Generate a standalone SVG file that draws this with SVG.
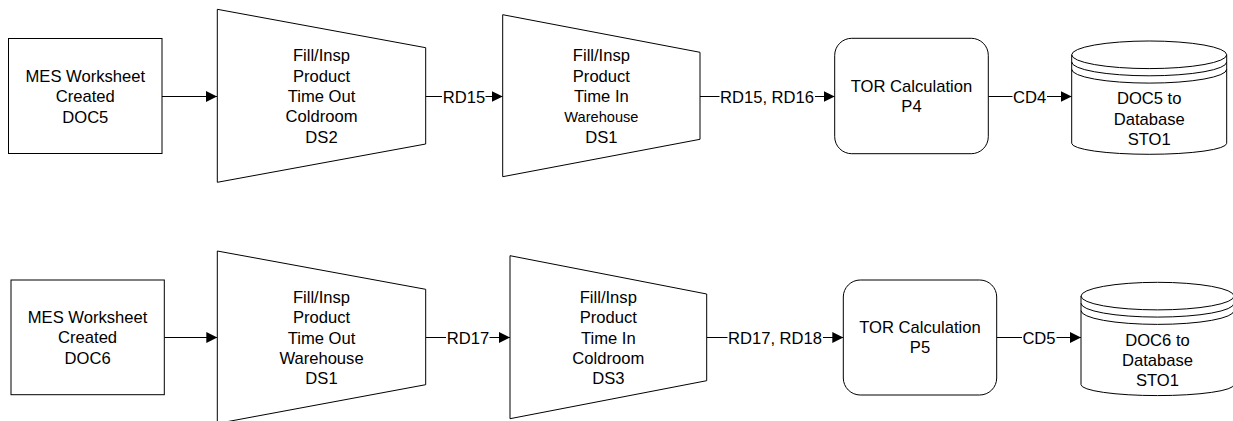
<svg xmlns="http://www.w3.org/2000/svg" width="1233" height="421" viewBox="0 0 1233 421">
<defs>
<style>
.s{fill:#fff;stroke:#000;stroke-width:1}
.t{font-family:"Liberation Sans",Arial,sans-serif;font-size:16.6px;fill:#000;text-anchor:middle}
.sm{font-size:14.6px}
.c{stroke:#000;stroke-width:1;fill:none}
.bg{fill:#fff;stroke:none}
</style>
<marker id="a" markerUnits="userSpaceOnUse" markerWidth="12" markerHeight="11" refX="11" refY="5.5" orient="auto">
<path d="M0,0 L11,5.5 L0,11 z" fill="#000"/>
</marker>
</defs>
<rect width="1233" height="421" fill="#fff"/>

<g id="connectors">
<line class="c" x1="162" y1="96.5" x2="217" y2="96.5" marker-end="url(#a)"/>
<line class="c" x1="425.7" y1="96.5" x2="502.7" y2="96.5" marker-end="url(#a)"/>
<rect class="bg" x="442" y="88" width="43.5" height="17"/>
<text class="t" x="464" y="102.5">RD15</text>
<line class="c" x1="700" y1="96.5" x2="834.7" y2="96.5" marker-end="url(#a)"/>
<rect class="bg" x="719.5" y="88" width="95.5" height="17"/>
<text class="t" x="767" y="102.5">RD15, RD16</text>
<line class="c" x1="988.3" y1="96.5" x2="1071.7" y2="96.5" marker-end="url(#a)"/>
<rect class="bg" x="1012.5" y="88" width="34.5" height="17"/>
<text class="t" x="1029.6" y="102.5">CD4</text>

<line class="c" x1="164.3" y1="337.5" x2="217.3" y2="337.5" marker-end="url(#a)"/>
<line class="c" x1="425.7" y1="337.5" x2="510" y2="337.5" marker-end="url(#a)"/>
<rect class="bg" x="446" y="329" width="43.5" height="17"/>
<text class="t" x="468" y="343.5">RD17</text>
<line class="c" x1="706.7" y1="337.5" x2="843.3" y2="337.5" marker-end="url(#a)"/>
<rect class="bg" x="727.5" y="329" width="95.5" height="17"/>
<text class="t" x="775" y="343.5">RD17, RD18</text>
<line class="c" x1="996.7" y1="337.5" x2="1081" y2="337.5" marker-end="url(#a)"/>
<rect class="bg" x="1022" y="329" width="34.5" height="17"/>
<text class="t" x="1039" y="343.5">CD5</text>
</g>

<g id="doc5">
<rect class="s" x="8.5" y="38.5" width="153.5" height="115"/>
<text class="t" x="85.3" y="82">MES Worksheet</text>
<text class="t" x="85.3" y="102.4">Created</text>
<text class="t" x="85.3" y="122.8">DOC5</text>
</g>

<g id="ds2-out">
<polygon class="s" points="217.3,9.3 425.7,47.7 425.7,144 217.3,182.3"/>
<text class="t" x="321.5" y="61.2">Fill/Insp</text>
<text class="t" x="321.5" y="81.6">Product</text>
<text class="t" x="321.5" y="102">Time Out</text>
<text class="t" x="321.5" y="122.4">Coldroom</text>
<text class="t" x="321.5" y="142.8">DS2</text>
</g>

<g id="ds1-in">
<polygon class="s" points="502.7,14.7 700,52.3 700,139.3 502.7,176.7"/>
<text class="t" x="601.4" y="61.2">Fill/Insp</text>
<text class="t" x="601.4" y="81.6">Product</text>
<text class="t" x="601.4" y="102">Time In</text>
<text class="t sm" x="601.4" y="122">Warehouse</text>
<text class="t" x="601.4" y="142.8">DS1</text>
</g>

<g id="p4">
<rect class="s" x="834.7" y="38.3" width="153.6" height="115.4" rx="17" ry="17"/>
<text class="t" x="911.5" y="92">TOR Calculation</text>
<text class="t" x="911.5" y="112.4">P4</text>
</g>

<g id="sto1-a">
<path class="s" d="M1071.7,54.8 A77.5,13.8 0 0 1 1226.7,54.8 L1226.7,143.3 A77.5,11 0 0 1 1071.7,143.3 Z"/>
<path class="c" d="M1071.7,54.8 A77.5,13.8 0 0 0 1226.7,54.8 M1071.7,62 A77.5,13.8 0 0 0 1226.7,62 M1071.7,69.3 A77.5,13.8 0 0 0 1226.7,69.3"/>
<text class="t" x="1149.2" y="104.3">DOC5 to</text>
<text class="t" x="1149.2" y="124.7">Database</text>
<text class="t" x="1149.2" y="145">STO1</text>
</g>

<g id="doc6">
<rect class="s" x="11" y="280" width="153.3" height="114.7"/>
<text class="t" x="87.6" y="322.8">MES Worksheet</text>
<text class="t" x="87.6" y="343.2">Created</text>
<text class="t" x="87.6" y="363.6">DOC6</text>
</g>

<g id="ds1-out">
<polygon class="s" points="217.3,251 425.7,289.3 425.7,384.7 217.3,423.5"/>
<text class="t" x="321.5" y="302.7">Fill/Insp</text>
<text class="t" x="321.5" y="323.1">Product</text>
<text class="t" x="321.5" y="343.5">Time Out</text>
<text class="t" x="321.5" y="363.9">Warehouse</text>
<text class="t" x="321.5" y="384.3">DS1</text>
</g>

<g id="ds3-in">
<polygon class="s" points="510,255.7 706.7,294 706.7,380.7 510,418.7"/>
<text class="t" x="608.3" y="302.7">Fill/Insp</text>
<text class="t" x="608.3" y="323.1">Product</text>
<text class="t" x="608.3" y="343.5">Time In</text>
<text class="t" x="608.3" y="363.9">Coldroom</text>
<text class="t" x="608.3" y="384.3">DS3</text>
</g>

<g id="p5">
<rect class="s" x="843.3" y="280" width="153.4" height="115" rx="17" ry="17"/>
<text class="t" x="920" y="333">TOR Calculation</text>
<text class="t" x="920" y="353.4">P5</text>
</g>

<g id="sto1-b">
<path class="s" d="M1081,296.1 A76.5,13.8 0 0 1 1234,296.1 L1234,384.6 A76.5,11 0 0 1 1081,384.6 Z"/>
<path class="c" d="M1081,296.1 A76.5,13.8 0 0 0 1234,296.1 M1081,303.3 A76.5,13.8 0 0 0 1234,303.3 M1081,310.6 A76.5,13.8 0 0 0 1234,310.6"/>
<text class="t" x="1157.5" y="345.6">DOC6 to</text>
<text class="t" x="1157.5" y="366">Database</text>
<text class="t" x="1157.5" y="386.3">STO1</text>
</g>
</svg>
